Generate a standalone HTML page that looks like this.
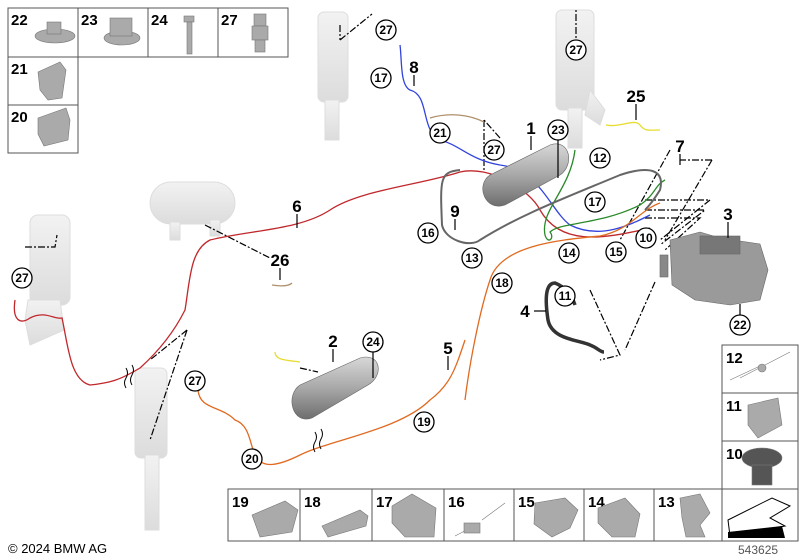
<!DOCTYPE html>
<html><head><meta charset="utf-8"><style>
body{margin:0;background:#fff}
svg{display:block}
text{font-family:"Liberation Sans",sans-serif;font-weight:bold;fill:#000}
.c{font-size:12px;text-anchor:middle}
.l{font-size:17px;text-anchor:middle}
.g{font-size:15px}
</style></head><body>
<svg width="800" height="560" viewBox="0 0 800 560" xmlns="http://www.w3.org/2000/svg">
<defs>
<linearGradient id="tk" x1="0" y1="0" x2="0" y2="1"><stop offset="0" stop-color="#d8d8d8"/><stop offset="0.5" stop-color="#a8a8a8"/><stop offset="1" stop-color="#6e6e6e"/></linearGradient>
<linearGradient id="ft" x1="0" y1="0" x2="0" y2="1"><stop offset="0" stop-color="#f2f2f2"/><stop offset="1" stop-color="#dcdcdc"/></linearGradient>
</defs>
<g fill="none" stroke="#555" stroke-width="1">
<rect x="8" y="8" width="280" height="49"/>
<line x1="78" y1="8" x2="78" y2="57"/><line x1="148" y1="8" x2="148" y2="57"/><line x1="218" y1="8" x2="218" y2="57"/>
<rect x="8" y="57" width="70" height="96"/><line x1="8" y1="105" x2="78" y2="105"/>
</g>
<text class="g" x="11" y="25">22</text><text class="g" x="81" y="25">23</text><text class="g" x="151" y="25">24</text><text class="g" x="221" y="25">27</text>
<text class="g" x="11" y="74">21</text><text class="g" x="11" y="122">20</text>
<g fill="#aaa" stroke="#777" stroke-width="0.6">
<ellipse cx="55" cy="36" rx="20" ry="7"/><rect x="47" y="22" width="14" height="12"/>
<ellipse cx="122" cy="38" rx="18" ry="7"/><rect x="110" y="18" width="22" height="18"/>
<rect x="184" y="16" width="10" height="6"/><rect x="187" y="22" width="5" height="32"/>
<rect x="254" y="14" width="12" height="12"/><rect x="252" y="26" width="16" height="14"/><rect x="255" y="40" width="10" height="12"/>
<path d="M38 72 L60 62 L66 70 L62 98 L48 100 L40 90Z"/>
<path d="M38 118 L66 108 L70 120 L68 140 L44 146 L38 134Z"/>
</g>
<g fill="url(#ft)" stroke="#ddd">
<rect x="318" y="12" width="30" height="90" rx="6"/><rect x="325" y="100" width="14" height="40"/>
<rect x="556" y="10" width="38" height="100" rx="6"/><rect x="568" y="108" width="14" height="40"/><path d="M590 90 L605 110 L600 125 L585 115Z"/>
<rect x="30" y="215" width="40" height="90" rx="8"/><path d="M28 300 L60 300 L64 330 L30 345 L25 320Z"/>
<rect x="135" y="368" width="32" height="90" rx="6"/><rect x="145" y="455" width="14" height="75"/>
<rect x="150" y="182" width="85" height="42" rx="21"/><rect x="170" y="222" width="10" height="18"/><rect x="210" y="220" width="10" height="16"/>
</g>
<g fill="none" stroke="#000" stroke-width="1.2" stroke-dasharray="7,2,2,2">
<path d="M340 40 L372 14"/><path d="M340 25 L340 40"/>
<path d="M576 60 L576 10"/>
<path d="M25 247 L55 247 L57 235"/>
<path d="M187 330 L150 440"/><path d="M187 330 L150 360"/>
<path d="M205 225 L270 258"/>
<path d="M484 120 L484 172"/><path d="M500 138 L484 120"/>
<path d="M590 290 L620 355 L600 360"/><path d="M655 282 L625 350"/>
<path d="M670 150 L620 240"/>
<path d="M712 160 L680 160 M712 160 L665 240"/>
<path d="M645 200 L710 200 L660 240"/><path d="M645 210 L705 210 L660 245"/><path d="M645 218 L700 218 L665 250"/>
<path d="M300 368 L318 372"/>
</g>
<g fill="none" stroke-width="1.3">
<path stroke="#c0282c" d="M15 300 C12 320 20 325 30 318 C45 310 55 320 62 318 C68 345 70 380 90 385 C110 383 120 380 140 368 C160 350 175 330 185 310 C190 280 190 250 210 240 C250 230 300 230 330 210 C360 190 420 185 460 172 C490 165 530 190 540 210 C560 245 600 240 650 228"/>
<path stroke="#3344dd" d="M400 45 C402 60 400 85 410 90 C430 95 420 130 440 140 C460 145 470 160 500 165 C540 170 550 210 570 225 C600 240 630 225 650 215"/>
<path stroke="#2a8a2a" d="M575 150 C570 190 540 210 545 235 C548 245 555 238 550 232 C560 222 600 225 640 205 C655 195 655 185 665 180"/>
<path stroke="#e06a20" d="M465 400 C470 360 480 310 490 280 C500 245 560 240 600 236 C630 230 640 210 660 203 M198 390 C200 410 220 405 235 420 C250 425 250 445 255 455 C262 470 280 465 300 455 C330 440 400 430 430 400 C450 385 455 370 465 340"/>
<path stroke="#b0906a" d="M430 118 C450 112 470 115 484 122 M272 285 C285 287 290 285 292 283"/>
<path stroke="#e8dc30" d="M606 125 C620 128 635 118 640 125 C645 132 650 130 660 130 M275 352 C275 360 285 360 300 362"/>
<path stroke="#666" stroke-width="2" d="M460 170 C440 172 440 178 442 225 C445 240 470 248 480 240 C520 215 560 200 620 175 C650 165 665 170 660 190 C655 198 650 205 645 210"/>
<path stroke="#333" stroke-width="3.5" d="M575 305 C570 290 560 285 555 283 C545 283 545 300 548 320 C552 340 580 340 590 345 C598 348 600 352 604 352"/>
</g>
<g fill="none" stroke="#000" stroke-width="1"><path d="M126 368 q3 5 0 10 q-3 5 0 10 M132 365 q3 5 0 10 q-3 5 0 10"/><path d="M315 432 q3 5 0 10 q-3 5 0 10 M321 429 q3 5 0 10 q-3 5 0 10"/></g>
<g stroke="#666" stroke-width="0.6">
<path d="M490 175 L550 145 C570 138 575 165 560 175 L505 205 C485 212 475 185 490 175Z" fill="url(#tk)"/>
<path d="M300 385 L360 358 C380 352 385 375 368 385 L312 418 C292 425 285 395 300 385Z" fill="url(#tk)"/>
<path d="M670 240 L700 232 L720 238 L760 244 L768 270 L760 300 L730 305 L695 300 L672 285Z" fill="#9a9a9a"/>
<rect x="700" y="236" width="40" height="18" fill="#777"/>
<rect x="660" y="255" width="8" height="22" fill="#888"/>
</g>
<g stroke="#000" stroke-width="1.2">
<line x1="414" y1="75" x2="414" y2="86"/><line x1="531" y1="136" x2="531" y2="150"/><line x1="558" y1="140" x2="558" y2="178"/>
<line x1="636" y1="104" x2="636" y2="120"/><line x1="680" y1="154" x2="680" y2="165"/><line x1="455" y1="219" x2="455" y2="230"/>
<line x1="728" y1="222" x2="728" y2="238"/><line x1="740" y1="304" x2="740" y2="315"/><line x1="534" y1="311" x2="546" y2="311"/>
<line x1="297" y1="214" x2="297" y2="228"/><line x1="280" y1="268" x2="280" y2="280"/><line x1="333" y1="349" x2="333" y2="362"/>
<line x1="373" y1="352" x2="373" y2="378"/><line x1="448" y1="356" x2="448" y2="370"/>
</g>
<g fill="#fff" stroke="#000" stroke-width="1.3">
<circle cx="386" cy="30" r="10"/><circle cx="381" cy="78" r="10"/><circle cx="440" cy="133" r="10"/><circle cx="494" cy="150" r="10"/>
<circle cx="558" cy="130" r="10"/><circle cx="600" cy="158" r="10"/><circle cx="595" cy="202" r="10"/><circle cx="428" cy="233" r="10"/>
<circle cx="472" cy="258" r="10"/><circle cx="569" cy="253" r="10"/><circle cx="616" cy="252" r="10"/><circle cx="646" cy="238" r="10"/>
<circle cx="502" cy="283" r="10"/><circle cx="565" cy="296" r="10"/><circle cx="740" cy="325" r="10"/><circle cx="22" cy="278" r="10"/>
<circle cx="373" cy="342" r="10"/><circle cx="195" cy="381" r="10"/><circle cx="424" cy="422" r="10"/><circle cx="252" cy="459" r="10"/>
<circle cx="576" cy="50" r="10"/>
</g>
<text class="c" x="386" y="34">27</text><text class="c" x="381" y="82">17</text><text class="c" x="440" y="137">21</text><text class="c" x="494" y="154">27</text>
<text class="c" x="558" y="134">23</text><text class="c" x="600" y="162">12</text><text class="c" x="595" y="206">17</text><text class="c" x="428" y="237">16</text>
<text class="c" x="472" y="262">13</text><text class="c" x="569" y="257">14</text><text class="c" x="616" y="256">15</text><text class="c" x="646" y="242">10</text>
<text class="c" x="502" y="287">18</text><text class="c" x="565" y="300">11</text><text class="c" x="740" y="329">22</text><text class="c" x="22" y="282">27</text>
<text class="c" x="373" y="346">24</text><text class="c" x="195" y="385">27</text><text class="c" x="424" y="426">19</text><text class="c" x="252" y="463">20</text>
<text class="c" x="576" y="54">27</text>
<text class="l" x="414" y="73">8</text><text class="l" x="531" y="134">1</text><text class="l" x="636" y="102">25</text><text class="l" x="680" y="152">7</text>
<text class="l" x="455" y="217">9</text><text class="l" x="728" y="220">3</text><text class="l" x="525" y="317">4</text><text class="l" x="297" y="212">6</text>
<text class="l" x="280" y="266">26</text><text class="l" x="333" y="347">2</text><text class="l" x="448" y="354">5</text>
<g fill="none" stroke="#555" stroke-width="1">
<rect x="228" y="489" width="570" height="52"/>
<line x1="300" y1="489" x2="300" y2="541"/><line x1="372" y1="489" x2="372" y2="541"/><line x1="444" y1="489" x2="444" y2="541"/>
<line x1="514" y1="489" x2="514" y2="541"/><line x1="584" y1="489" x2="584" y2="541"/><line x1="654" y1="489" x2="654" y2="541"/><line x1="722" y1="489" x2="722" y2="541"/>
<rect x="722" y="345" width="76" height="144"/><line x1="722" y1="393" x2="798" y2="393"/><line x1="722" y1="441" x2="798" y2="441"/>
</g>
<text class="g" x="232" y="507">19</text><text class="g" x="304" y="507">18</text><text class="g" x="376" y="507">17</text><text class="g" x="448" y="507">16</text>
<text class="g" x="518" y="507">15</text><text class="g" x="588" y="507">14</text><text class="g" x="658" y="507">13</text>
<text class="g" x="726" y="363">12</text><text class="g" x="726" y="411">11</text><text class="g" x="726" y="459">10</text>
<g fill="#aaa" stroke="#777" stroke-width="0.6">
<path d="M252 515 L285 501 L298 510 L292 532 L260 537Z"/>
<path d="M322 526 L360 510 L368 516 L366 526 L328 537Z"/>
<path d="M392 506 L412 494 L436 508 L434 537 L405 537 L392 523Z"/>
<path d="M455 536 L480 523 M482 520 L505 503" fill="none"/><rect x="464" y="523" width="16" height="10"/>
<path d="M535 503 L565 498 L578 510 L570 528 L552 537 L534 524Z"/>
<path d="M598 508 L625 498 L640 514 L635 537 L612 537 L598 523Z"/>
<path d="M680 498 L700 494 L710 513 L700 525 L705 537 L686 537 L682 518Z"/>
<path d="M730 380 L760 366 M740 378 L790 352" fill="none"/><circle cx="762" cy="368" r="4"/>
<path d="M748 405 L778 398 L782 425 L758 438 L748 425Z"/>
<ellipse cx="762" cy="458" rx="20" ry="10" fill="#555"/><rect x="752" y="465" width="20" height="20" fill="#555"/>
</g>
<path d="M728 520 L772 498 L790 506 L770 518 L785 526 L730 536Z" fill="#fff" stroke="#000"/>
<path d="M728 532 L782 526 L785 538 L728 538Z" fill="#000"/>
<text x="8" y="553" style="font-size:13px;font-weight:normal">© 2024 BMW AG</text>
<text x="738" y="554" style="font-size:12px;font-weight:normal;fill:#555">543625</text>
</svg>
</body></html>
